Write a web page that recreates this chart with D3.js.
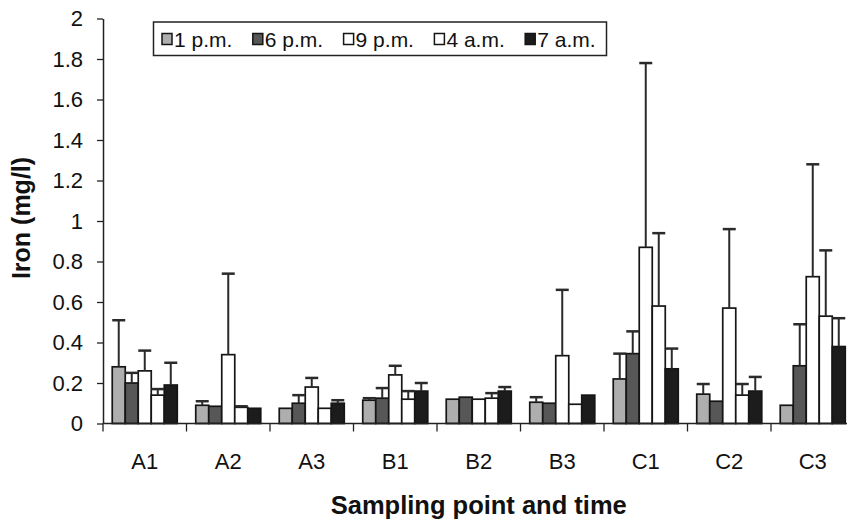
<!DOCTYPE html>
<html>
<head>
<meta charset="utf-8">
<script src="https://cdn.jsdelivr.net/npm/d3@7"></script>
<style>
  html, body { margin: 0; padding: 0; background: #fff; }
  svg { display: block; }
  text { font-family: "Liberation Sans", Arial, sans-serif; fill: #111; }
</style>
</head>
<body>
<svg id="chart" width="847" height="522"></svg>
<script>
// ---- data ----
const categories = ["A1", "A2", "A3", "B1", "B2", "B3", "C1", "C2", "C3"];
const seriesNames = ["1 p.m.", "6 p.m.", "9 p.m.", "4 a.m.", "7 a.m."];
const seriesColors = ["#aeaeae", "#575757", "#ffffff", "#ffffff", "#1c1c1c"];

const val1pm = [0.28, 0.09, 0.075, 0.115, 0.12, 0.105, 0.22, 0.145, 0.09];
const val6pm = [0.20, 0.085, 0.10, 0.125, 0.13, 0.10, 0.345, 0.11, 0.285];
const val9pm = [0.26, 0.34, 0.18, 0.24, 0.12, 0.335, 0.87, 0.57, 0.725];
const val4am = [0.14, 0.08, 0.075, 0.12, 0.125, 0.095, 0.58, 0.14, 0.53];
const val7am = [0.19, 0.075, 0.10, 0.16, 0.16, 0.14, 0.27, 0.16, 0.38];

// upper end of the error bar (mean + SD)
const err1pm = [0.51, 0.11, 0.075, 0.125, 0.12, 0.13, 0.345, 0.195, 0.09];
const err6pm = [0.25, 0.085, 0.14, 0.175, 0.13, 0.10, 0.455, 0.11, 0.49];
const err9pm = [0.36, 0.74, 0.225, 0.285, 0.12, 0.66, 1.78, 0.96, 1.28];
const err4am = [0.17, 0.085, 0.075, 0.16, 0.15, 0.095, 0.94, 0.195, 0.855];
const err7am = [0.30, 0.075, 0.115, 0.20, 0.18, 0.14, 0.37, 0.23, 0.52];

const yTicks = [0, 0.2, 0.4, 0.6, 0.8, 1, 1.2, 1.4, 1.6, 1.8, 2];
const yTitle = "Iron (mg/l)";
const xTitle = "Sampling point and time";

// ---- build table ----
const values = [val1pm, val6pm, val9pm, val4am, val7am];
const errs = [err1pm, err6pm, err9pm, err4am, err7am];
const rows = [];
categories.forEach((c, ci) => {
  seriesNames.forEach((s, si) => {
    rows.push({ cat: c, series: s, si: si, value: values[si][ci], err: errs[si][ci] });
  });
});

// ---- layout ----
const left = 103, bandW = 83.5;
const svg = d3.select("#chart");

const x = d3.scaleBand().domain(categories)
  .range([left, left + categories.length * bandW]).padding(0);
const xs = d3.scaleBand().domain(seriesNames)
  .range([0, x.bandwidth()]).paddingInner(0).paddingOuter(0.71);
const y = d3.scaleLinear().domain([0, 2]).range([423.5, 18.5]);
const color = d3.scaleOrdinal().domain(seriesNames).range(seriesColors);

// bars
svg.append("g").selectAll("rect").data(rows).join("rect")
  .attr("x", d => x(d.cat) + xs(d.series))
  .attr("y", d => y(d.value))
  .attr("width", xs.bandwidth())
  .attr("height", d => y(0) - y(d.value))
  .attr("fill", d => color(d.series))
  .attr("stroke", "#151515")
  .attr("stroke-width", 1.7);

// error bars
const eb = svg.append("g").attr("stroke", "#2a2a2a").attr("stroke-width", 2);
const withErr = rows.filter(d => d.err > d.value + 0.001);
eb.selectAll("line.v").data(withErr).join("line").attr("class", "v")
  .attr("x1", d => x(d.cat) + xs(d.series) + xs.bandwidth() / 2)
  .attr("x2", d => x(d.cat) + xs(d.series) + xs.bandwidth() / 2)
  .attr("y1", d => y(d.value))
  .attr("y2", d => y(d.err));
eb.selectAll("line.c").data(withErr).join("line").attr("class", "c")
  .attr("x1", d => x(d.cat) + xs(d.series) + xs.bandwidth() / 2 - 6.5)
  .attr("x2", d => x(d.cat) + xs(d.series) + xs.bandwidth() / 2 + 6.5)
  .attr("y1", d => y(d.err))
  .attr("y2", d => y(d.err))
  .attr("stroke-width", 2.5);

// y axis
const yAxis = svg.append("g").attr("transform", `translate(${left},0)`)
  .call(d3.axisLeft(y).tickValues(yTicks).tickSize(6).tickPadding(14)
    .tickSizeOuter(0).tickFormat(d3.format("~g")));
yAxis.select(".domain").attr("stroke", "#222").attr("stroke-width", 1.5);
yAxis.selectAll(".tick line").attr("stroke", "#222").attr("stroke-width", 1.3);
yAxis.selectAll(".tick text").attr("font-size", 22)
  .attr("font-family", "Liberation Sans, Arial, sans-serif").attr("fill", "#111");

// x axis: line, boundary ticks, labels
const xg = svg.append("g");
xg.append("line").attr("x1", left).attr("x2", x.range()[1])
  .attr("y1", y(0)).attr("y2", y(0)).attr("stroke", "#222").attr("stroke-width", 1.5);
const bounds = categories.map(c => x(c)).concat([x.range()[1]]);
xg.selectAll("line.t").data(bounds).join("line").attr("class", "t")
  .attr("x1", d => d).attr("x2", d => d)
  .attr("y1", y(0)).attr("y2", y(0) + 8)
  .attr("stroke", "#222").attr("stroke-width", 1.3);
xg.selectAll("text").data(categories).join("text")
  .attr("x", d => x(d) + x.bandwidth() / 2)
  .attr("y", 469)
  .attr("text-anchor", "middle")
  .attr("font-size", 22)
  .text(d => d);

// titles
svg.append("text").attr("x", (left + x.range()[1]) / 2).attr("y", 514)
  .attr("text-anchor", "middle").attr("font-size", 25.5).attr("font-weight", "bold")
  .text(xTitle);
svg.append("text").attr("transform", "translate(30,218) rotate(-90)")
  .attr("text-anchor", "middle").attr("font-size", 25).attr("font-weight", "bold")
  .text(yTitle);

// legend
const lg = svg.append("g");
lg.append("rect").attr("x", 153.5).attr("y", 22).attr("width", 453).attr("height", 33.5)
  .attr("fill", "#fff").attr("stroke", "#222").attr("stroke-width", 1.5);
const items = lg.selectAll("g.item").data(seriesNames).join("g").attr("class", "item")
  .attr("transform", (d, i) => `translate(${162 + i * 90.8},0)`);
items.append("rect").attr("x", 0).attr("y", 33.5).attr("width", 10).attr("height", 11)
  .attr("fill", d => color(d)).attr("stroke", "#151515").attr("stroke-width", 1.5);
items.append("text").attr("x", 12).attr("y", 46.5).attr("font-size", 21).text(d => d);
</script>
</body>
</html>
